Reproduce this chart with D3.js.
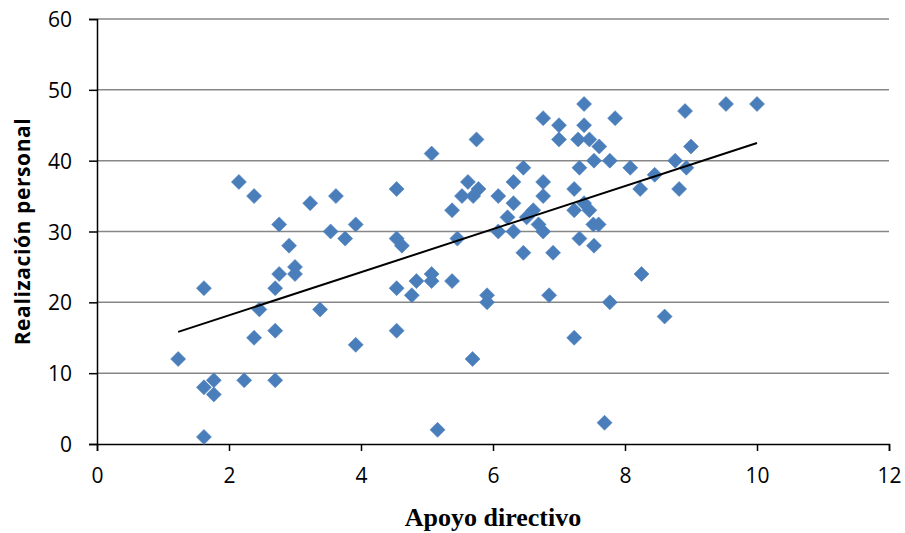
<!DOCTYPE html>
<html>
<head>
<meta charset="utf-8">
<script src="https://cdn.jsdelivr.net/npm/d3@7"></script>
<style>
  body { margin: 0; background: #fff; }
  .tick text { font-family: "Open Sans", sans-serif; font-size: 21px; fill: #000; }
</style>
</head>
<body>
<div id="chart"></div>
<script>
// Apoyo directivo (x) vs Realización personal (y)
const apoyo = [
  1.23, 1.62, 1.62, 1.62, 1.77, 1.77, 2.15, 2.23, 2.38, 2.38,
  2.46, 2.70, 2.70, 2.70, 2.76, 2.76, 2.91, 3.0, 3.0, 3.23,
  3.38, 3.54, 3.62, 3.76, 3.92, 3.92, 4.54, 4.54, 4.54, 4.54,
  4.62, 4.77, 4.84, 5.07, 5.07, 5.07, 5.16, 5.38, 5.38, 5.46,
  5.53, 5.62, 5.70, 5.69, 5.75, 5.78, 5.91, 5.91, 6.08, 6.08,
  6.22, 6.31, 6.31, 6.31, 6.46, 6.46, 6.51, 6.61, 6.69, 6.76,
  6.76, 6.76, 6.76, 6.85, 6.91, 7.0, 7.0, 7.23, 7.23, 7.23,
  7.29, 7.31, 7.31, 7.38, 7.38, 7.38, 7.46, 7.46, 7.53, 7.52,
  7.53, 7.61, 7.60, 7.69, 7.77, 7.77, 7.85, 8.08, 8.23, 8.25,
  8.45, 8.60, 8.76, 8.82, 8.91, 8.93, 9.0, 9.53, 10.0
];
const realizacion = [
  12, 22, 8, 1, 9, 7, 37, 9, 35, 15,
  19, 22, 16, 9, 31, 24, 28, 25, 24, 34,
  19, 30, 35, 29, 31, 14, 36, 29, 22, 16,
  28, 21, 23, 41, 24, 23, 2, 33, 23, 29,
  35, 37, 35, 12, 43, 36, 21, 20, 35, 30,
  32, 37, 34, 30, 39, 27, 32, 33, 31, 46,
  37, 35, 30, 21, 27, 45, 43, 36, 33, 15,
  43, 39, 29, 48, 45, 34, 33, 43, 40, 31,
  28, 42, 31, 3, 40, 20, 46, 39, 36, 24,
  38, 18, 40, 36, 47, 39, 42, 48, 48
];
const xTicks = [0, 2, 4, 6, 8, 10, 12];
const yTicks = [0, 10, 20, 30, 40, 50, 60];
const xTitle = "Apoyo directivo";
const yTitle = "Realización personal";

const points = apoyo.map((x, i) => ({ x: x, y: realizacion[i] }));

const width = 905, height = 533;
const margin = { top: 19, right: 16, bottom: 89, left: 97 };

const svg = d3.select('#chart').append('svg')
  .attr('width', width)
  .attr('height', height);

const x = d3.scaleLinear().domain([0, 12]).range([margin.left, width - margin.right]);
const y = d3.scaleLinear().domain([0, 60]).range([height - margin.bottom, margin.top]);

// gridlines
svg.append('g')
  .selectAll('line')
  .data(yTicks.filter(t => t > 0))
  .enter()
  .append('line')
  .attr('x1', x(0)).attr('x2', x(12))
  .attr('y1', d => y(d)).attr('y2', d => y(d))
  .attr('stroke', '#878787')
  .attr('stroke-width', 1.5);

// axes
const xAxis = svg.append('g')
  .attr('transform', `translate(0,${y(0)})`)
  .call(d3.axisBottom(x).tickValues(xTicks).tickSize(7).tickPadding(17));
const yAxis = svg.append('g')
  .attr('transform', `translate(${x(0)},0)`)
  .call(d3.axisLeft(y).tickValues(yTicks).tickSize(8).tickPadding(17));
[xAxis, yAxis].forEach(a => {
  a.select('.domain').attr('stroke', '#000').attr('stroke-width', 1.5);
  a.selectAll('.tick line').attr('stroke', '#000').attr('stroke-width', 1.5);
});
yAxis.selectAll('.tick text').attr('dy', '0.36em');

// points
const diamond = 'M0,-7.5L7.5,0L0,7.5L-7.5,0Z';
svg.append('g')
  .selectAll('path')
  .data(points)
  .enter()
  .append('path')
  .attr('d', diamond)
  .attr('transform', d => `translate(${x(d.x)},${y(d.y)})`)
  .attr('fill', '#4a7ebb')
  .attr('stroke', '#4f81bd')
  .attr('stroke-width', 0.6);

// linear trend (least squares)
const mx = d3.mean(points, d => d.x), my = d3.mean(points, d => d.y);
const slope = d3.sum(points, d => (d.x - mx) * (d.y - my)) / d3.sum(points, d => (d.x - mx) ** 2);
const intercept = my - slope * mx;
const [x0, x1] = d3.extent(points, d => d.x);
svg.append('line')
  .attr('x1', x(x0)).attr('y1', y(intercept + slope * x0))
  .attr('x2', x(x1)).attr('y2', y(intercept + slope * x1))
  .attr('stroke', '#000')
  .attr('stroke-width', 2);

// titles
svg.append('text')
  .attr('x', (x(0) + x(12)) / 2)
  .attr('y', 526)
  .attr('text-anchor', 'middle')
  .style('font-family', '"Liberation Serif", "Times New Roman", serif')
  .style('font-weight', 'bold')
  .style('font-size', '26px')
  .text(xTitle);

svg.append('text')
  .attr('transform', `translate(30,${(y(0) + y(60)) / 2}) rotate(-90)`)
  .attr('text-anchor', 'middle')
  .style('font-family', '"Open Sans", sans-serif')
  .style('font-weight', 'bold')
  .style('font-size', '21px')
  .style('letter-spacing', '0.6px')
  .text(yTitle);
</script>
</body>
</html>
